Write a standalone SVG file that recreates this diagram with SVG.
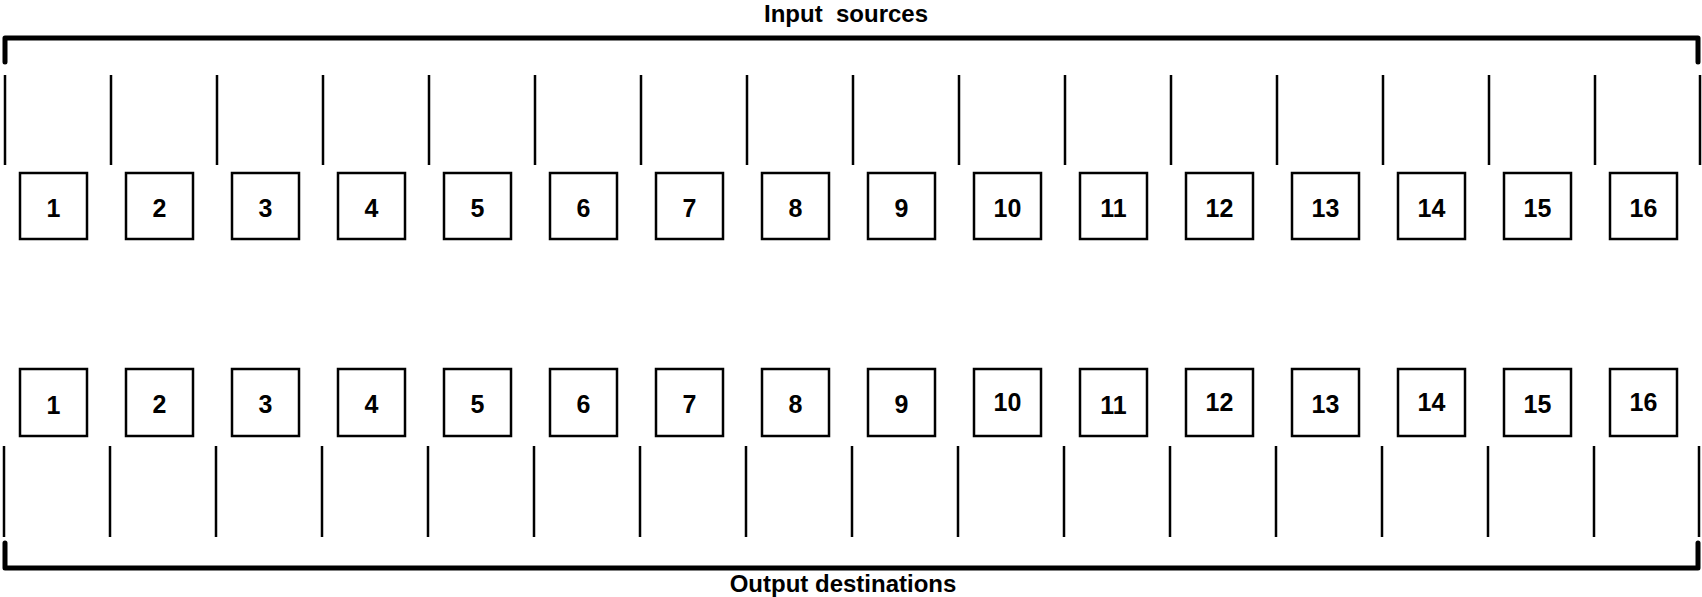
<svg xmlns="http://www.w3.org/2000/svg" width="1702" height="597" viewBox="0 0 1702 597">
<style>
.bg{fill:#fff}
.box{fill:#fff;stroke:#000;stroke-width:2.5}
.num{font-family:"Liberation Sans",Arial,sans-serif;font-weight:bold;font-size:25px;text-anchor:middle;fill:#000}
.title{font-family:"Liberation Sans",Arial,sans-serif;font-weight:bold;font-size:24px;text-anchor:middle;fill:#000;white-space:pre}
.ln{stroke:#000;stroke-width:2.5;fill:none}
.br{stroke:#000;stroke-width:5;fill:none;stroke-linecap:round;stroke-linejoin:round}
</style>
<rect class="bg" x="0" y="0" width="1702" height="597"/>
<text class="title" x="846" y="22" xml:space="preserve">Input  sources</text>
<text class="title" x="843" y="592">Output destinations</text>
<g id="connectors">
<path class="br" d="M5,62 V38 H1698 V62"/>
<path class="br" d="M5,543 V568 H1698 V543"/>
<path class="ln" d="M5,75V165 M111,75V165 M217,75V165 M323,75V165 M429,75V165 M535,75V165 M641,75V165 M747,75V165 M853,75V165 M959,75V165 M1065,75V165 M1171,75V165 M1277,75V165 M1383,75V165 M1489,75V165 M1595,75V165 M1700,75V165"/>
<path class="ln" d="M4,446V537 M110,446V537 M216,446V537 M322,446V537 M428,446V537 M534,446V537 M640,446V537 M746,446V537 M852,446V537 M958,446V537 M1064,446V537 M1170,446V537 M1276,446V537 M1382,446V537 M1488,446V537 M1594,446V537 M1699,446V537"/>
</g>
<g id="in1"><rect class="box" x="20" y="173" width="67" height="66"/><text class="num" x="53.5" y="217">1</text></g>
<g id="in2"><rect class="box" x="126" y="173" width="67" height="66"/><text class="num" x="159.5" y="217">2</text></g>
<g id="in3"><rect class="box" x="232" y="173" width="67" height="66"/><text class="num" x="265.5" y="217">3</text></g>
<g id="in4"><rect class="box" x="338" y="173" width="67" height="66"/><text class="num" x="371.5" y="217">4</text></g>
<g id="in5"><rect class="box" x="444" y="173" width="67" height="66"/><text class="num" x="477.5" y="217">5</text></g>
<g id="in6"><rect class="box" x="550" y="173" width="67" height="66"/><text class="num" x="583.5" y="217">6</text></g>
<g id="in7"><rect class="box" x="656" y="173" width="67" height="66"/><text class="num" x="689.5" y="217">7</text></g>
<g id="in8"><rect class="box" x="762" y="173" width="67" height="66"/><text class="num" x="795.5" y="217">8</text></g>
<g id="in9"><rect class="box" x="868" y="173" width="67" height="66"/><text class="num" x="901.5" y="217">9</text></g>
<g id="in10"><rect class="box" x="974" y="173" width="67" height="66"/><text class="num" x="1007.5" y="217">10</text></g>
<g id="in11"><rect class="box" x="1080" y="173" width="67" height="66"/><text class="num" x="1113.5" y="217">11</text></g>
<g id="in12"><rect class="box" x="1186" y="173" width="67" height="66"/><text class="num" x="1219.5" y="217">12</text></g>
<g id="in13"><rect class="box" x="1292" y="173" width="67" height="66"/><text class="num" x="1325.5" y="217">13</text></g>
<g id="in14"><rect class="box" x="1398" y="173" width="67" height="66"/><text class="num" x="1431.5" y="217">14</text></g>
<g id="in15"><rect class="box" x="1504" y="173" width="67" height="66"/><text class="num" x="1537.5" y="217">15</text></g>
<g id="in16"><rect class="box" x="1610" y="173" width="67" height="66"/><text class="num" x="1643.5" y="217">16</text></g>
<g id="out1"><rect class="box" x="20" y="369" width="67" height="67"/><text class="num" x="53.5" y="414">1</text></g>
<g id="out2"><rect class="box" x="126" y="369" width="67" height="67"/><text class="num" x="159.5" y="413">2</text></g>
<g id="out3"><rect class="box" x="232" y="369" width="67" height="67"/><text class="num" x="265.5" y="413">3</text></g>
<g id="out4"><rect class="box" x="338" y="369" width="67" height="67"/><text class="num" x="371.5" y="413">4</text></g>
<g id="out5"><rect class="box" x="444" y="369" width="67" height="67"/><text class="num" x="477.5" y="413">5</text></g>
<g id="out6"><rect class="box" x="550" y="369" width="67" height="67"/><text class="num" x="583.5" y="413">6</text></g>
<g id="out7"><rect class="box" x="656" y="369" width="67" height="67"/><text class="num" x="689.5" y="413">7</text></g>
<g id="out8"><rect class="box" x="762" y="369" width="67" height="67"/><text class="num" x="795.5" y="413">8</text></g>
<g id="out9"><rect class="box" x="868" y="369" width="67" height="67"/><text class="num" x="901.5" y="413">9</text></g>
<g id="out10"><rect class="box" x="974" y="369" width="67" height="67"/><text class="num" x="1007.5" y="411">10</text></g>
<g id="out11"><rect class="box" x="1080" y="369" width="67" height="67"/><text class="num" x="1113.5" y="414">11</text></g>
<g id="out12"><rect class="box" x="1186" y="369" width="67" height="67"/><text class="num" x="1219.5" y="411">12</text></g>
<g id="out13"><rect class="box" x="1292" y="369" width="67" height="67"/><text class="num" x="1325.5" y="413">13</text></g>
<g id="out14"><rect class="box" x="1398" y="369" width="67" height="67"/><text class="num" x="1431.5" y="411">14</text></g>
<g id="out15"><rect class="box" x="1504" y="369" width="67" height="67"/><text class="num" x="1537.5" y="413">15</text></g>
<g id="out16"><rect class="box" x="1610" y="369" width="67" height="67"/><text class="num" x="1643.5" y="411">16</text></g>
</svg>
